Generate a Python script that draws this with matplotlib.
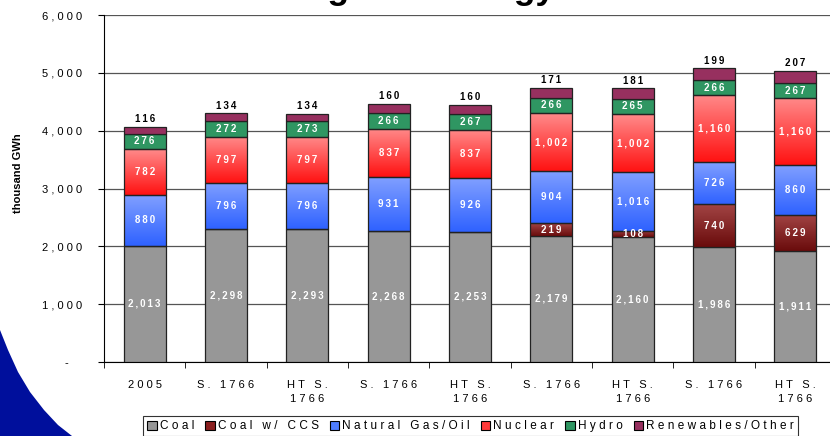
import matplotlib
matplotlib.use("Agg")
import matplotlib.pyplot as plt
import numpy as np
from matplotlib.colors import LinearSegmentedColormap
from matplotlib.patches import Polygon, Rectangle

categories = ["2005", "S. 1766", "HT S.\n1766", "S. 1766", "HT S.\n1766",
              "S. 1766", "HT S.\n1766", "S. 1766", "HT S.\n1766"]
coal = [2013, 2298, 2293, 2268, 2253, 2179, 2160, 1986, 1911]
coal_ccs = [0, 0, 0, 0, 0, 219, 108, 740, 629]
gas_oil = [880, 796, 796, 931, 926, 904, 1016, 726, 860]
nuclear = [782, 797, 797, 837, 837, 1002, 1002, 1160, 1160]
hydro = [276, 272, 273, 266, 267, 266, 265, 266, 267]
renewables = [116, 134, 134, 160, 160, 171, 181, 199, 207]
series_names = ["Coal", "Coal w/ CCS", "Natural Gas/Oil", "Nuclear", "Hydro", "Renewables/Other"]
yticks = [0, 1000, 2000, 3000, 4000, 5000, 6000]
ytick_labels = ["-", "1,000", "2,000", "3,000", "4,000", "5,000", "6,000"]
title = "Generating Technology Shares"
ylabel = "thousand GWh"

WIDE = "\u2009\u200a"
THIN = "\u2009"
def spaced(s, gap=WIDE):
    return "\n".join(gap.join(list(line)) for line in s.split("\n"))

plt.rcParams['font.family'] = ['Liberation Sans', 'DejaVu Sans']

W, H = 830, 436
fig = plt.figure(figsize=(W / 100, H / 100), dpi=100)

# decorative swoosh
sw = [(0, 330), (8, 350), (18, 372), (30, 392), (44, 410), (58, 425), (72, 436), (0, 436)]
fig.patches.append(Polygon([(x / W, 1 - y / H) for x, y in sw], closed=True,
                           transform=fig.transFigure, facecolor="#000f9c",
                           edgecolor="none", zorder=0))

ax_left, ax_right, ax_top, ax_bottom = 104, 836, 15, 362
ax = fig.add_axes([ax_left / W, 1 - ax_bottom / H, (ax_right - ax_left) / W,
                   (ax_bottom - ax_top) / H])
ax.set_facecolor("none")

x = np.arange(len(categories))
bw = 0.52

flat = {"Coal": "#979797", "Hydro": "#2f9662", "Renewables/Other": "#97305f"}
grads = {
    "Coal w/ CCS": ("#a24444", "#6a0c0c"),
    "Natural Gas/Oil": ("#809fff", "#2f62ff"),
    "Nuclear": ("#ff8a8a", "#ff1212"),
}
data = [coal, coal_ccs, gas_oil, nuclear, hydro, renewables]

bottom = np.zeros(len(x))
grad_img = np.linspace(0, 1, 64).reshape(-1, 1)
for name, vals in zip(series_names, data):
    vals = np.array(vals, dtype=float)
    if name in flat:
        ax.bar(x, vals, bw, bottom=bottom, color=flat[name], edgecolor="#222222",
               linewidth=0.9, zorder=3)
    else:
        top_c, bot_c = grads[name]
        cmap = LinearSegmentedColormap.from_list(name, [top_c, bot_c])
        for xi, b, v in zip(x, bottom, vals):
            if v <= 0:
                continue
            ax.imshow(grad_img, extent=[xi - bw / 2, xi + bw / 2, b, b + v],
                      aspect="auto", cmap=cmap, origin="upper", zorder=3,
                      interpolation="bilinear")
        ax.bar(x, vals, bw, bottom=bottom, color="none", edgecolor="#222222",
               linewidth=0.9, zorder=4)
    for xi, b, v in zip(x, bottom, vals):
        if v <= 0:
            continue
        lab = f"{int(v):,}"
        if name == "Renewables/Other":
            ax.text(xi, b + v + 45, spaced(lab, THIN), ha="center", va="bottom",
                    fontsize=7, fontweight="bold", color="black", zorder=6)
        else:
            ax.text(xi, b + v / 2, spaced(lab, THIN), ha="center", va="center",
                    fontsize=7, fontweight="bold", color="white", zorder=6)
    bottom += vals

ax.set_xlim(-0.5, 8.5)
ax.set_ylim(0, 6000)
ax.set_yticks(yticks)
ylabels = [("-" + "\u2003\u2009" if t == "-" else spaced(t)) for t in ytick_labels]
ax.set_yticklabels(ylabels, fontsize=8)
ax.yaxis.grid(True, color="#555555", linewidth=0.9, zorder=0)
ax.set_axisbelow(True)
ax.set_xticks(x)
ax.set_xticklabels([spaced(c) for c in categories], fontsize=8, linespacing=1.5)
ax.tick_params(axis="x", which="major", length=0, pad=13)
ax.set_xticks(np.arange(-0.5, 9, 1), minor=True)
ax.tick_params(axis="x", which="minor", length=4, direction="out", color="black")
ax.tick_params(axis="y", length=4, direction="out", color="black", pad=12)
for s in ["top", "right"]:
    ax.spines[s].set_visible(False)
ax.spines["left"].set_color("black")
ax.spines["bottom"].set_color("black")

fig.text(18 / W, 1 - 173 / H, ylabel, rotation=90, ha="center", va="center",
         fontsize=8, fontweight="bold")

fig.text(423 / W, 1 + 1.5 / H, title, ha="center", va="baseline", fontsize=25.5,
         fontweight="bold", color="black")

leg_colors = ["#979797", "#8a1e1e", "#4f7dff", "#ff3a3a", "#2f9662", "#97305f"]
handles = [Rectangle((0, 0), 1, 1, facecolor=c, edgecolor="black", linewidth=0.8)
           for c in leg_colors]
leg = fig.legend(handles, [spaced(n) for n in series_names], loc="upper left",
                 bbox_to_anchor=(143 / W, 1 - 416 / H), ncol=6, fontsize=8.5,
                 handlelength=0.8, handleheight=0.8, handletextpad=0.25,
                 columnspacing=0.95, borderpad=0.35, borderaxespad=0,
                 fancybox=False, frameon=True, edgecolor="black")
leg.get_frame().set_linewidth(0.8)

fig.savefig("out.png", dpi=100)
